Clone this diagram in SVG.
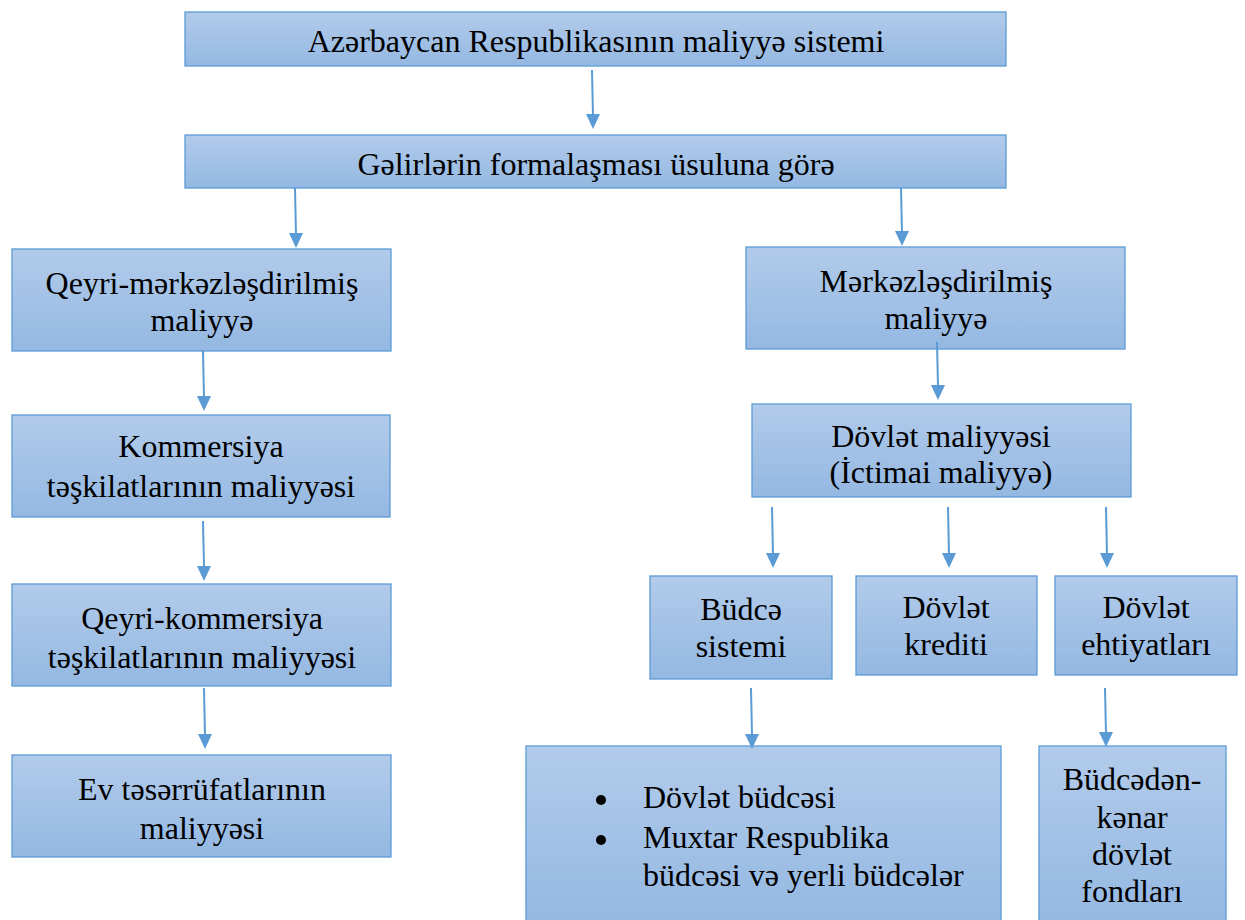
<svg xmlns="http://www.w3.org/2000/svg" width="1245" height="920" viewBox="0 0 1245 920">
  <defs>
    <linearGradient id="boxFill" x1="0" y1="0" x2="0" y2="1">
      <stop offset="0" stop-color="#b2cbea"/>
      <stop offset="1" stop-color="#94b8e2"/>
    </linearGradient>
    <style>
      .box { fill: url(#boxFill); stroke: #5b9bd5; stroke-width: 1.3; }
      text { font-family: 'Liberation Serif', 'DejaVu Serif', serif; font-size: 32px; fill: #000; }
      .lbl { text-anchor: middle; }
      .conn { stroke: #5b9bd5; stroke-width: 2; fill: none; }
      .head { fill: #5b9bd5; }
    </style>
  </defs>
  <rect width="1245" height="920" fill="#fff"/>

  <g id="n-sistem">
    <rect class="box" x="185" y="12" width="821" height="54"/>
    <text class="lbl" x="596" y="52">Azərbaycan Respublikasının maliyyə sistemi</text>
  </g>
  <g id="n-gelir">
    <rect class="box" x="185" y="135" width="821" height="53"/>
    <text class="lbl" x="596" y="175">Gəlirlərin formalaşması üsuluna görə</text>
  </g>
  <g id="n-qeyri-merk">
    <rect class="box" x="12" y="249" width="379" height="102"/>
    <text class="lbl" x="202" y="294">Qeyri-mərkəzləşdirilmiş</text>
    <text class="lbl" x="202" y="331">maliyyə</text>
  </g>
  <g id="n-merk">
    <rect class="box" x="746" y="247" width="379" height="102"/>
    <text class="lbl" x="936" y="292">Mərkəzləşdirilmiş</text>
    <text class="lbl" x="936" y="329">maliyyə</text>
  </g>
  <g id="n-kommersiya">
    <rect class="box" x="12" y="415" width="378" height="102"/>
    <text class="lbl" x="201" y="457">Kommersiya</text>
    <text class="lbl" x="201" y="497">təşkilatlarının maliyyəsi</text>
  </g>
  <g id="n-dovlet-maliyye">
    <rect class="box" x="752" y="404" width="379" height="93"/>
    <text class="lbl" x="941" y="447">Dövlət maliyyəsi</text>
    <text class="lbl" x="941" y="483">(İctimai maliyyə)</text>
  </g>
  <g id="n-qeyri-komm">
    <rect class="box" x="12" y="584" width="379" height="102"/>
    <text class="lbl" x="202" y="629">Qeyri-kommersiya</text>
    <text class="lbl" x="202" y="668">təşkilatlarının maliyyəsi</text>
  </g>
  <g id="n-ev">
    <rect class="box" x="12" y="755" width="379" height="102"/>
    <text class="lbl" x="202" y="800">Ev təsərrüfatlarının</text>
    <text class="lbl" x="202" y="839">maliyyəsi</text>
  </g>
  <g id="n-budce-sistemi">
    <rect class="box" x="650" y="576" width="182" height="103"/>
    <text class="lbl" x="741" y="620">Büdcə</text>
    <text class="lbl" x="741" y="657">sistemi</text>
  </g>
  <g id="n-kredit">
    <rect class="box" x="856" y="576" width="181" height="99"/>
    <text class="lbl" x="946" y="618">Dövlət</text>
    <text class="lbl" x="946" y="655">krediti</text>
  </g>
  <g id="n-ehtiyat">
    <rect class="box" x="1055" y="576" width="182" height="99"/>
    <text class="lbl" x="1146" y="618">Dövlət</text>
    <text class="lbl" x="1146" y="655">ehtiyatları</text>
  </g>
  <g id="n-budceler">
    <rect class="box" x="526" y="746" width="475" height="180"/>
    <circle cx="601" cy="800" r="5" fill="#000"/>
    <circle cx="601" cy="840" r="5" fill="#000"/>
    <text x="643" y="808">Dövlət büdcəsi</text>
    <text x="643" y="848">Muxtar Respublika</text>
    <text x="643" y="886">büdcəsi və yerli büdcələr</text>
  </g>
  <g id="n-budcedenkenar">
    <rect class="box" x="1039" y="746" width="187" height="180"/>
    <text class="lbl" x="1132" y="790">Büdcədən-</text>
    <text class="lbl" x="1132" y="828">kənar</text>
    <text class="lbl" x="1132" y="865">dövlət</text>
    <text class="lbl" x="1132" y="902">fondları</text>
  </g>

  <g id="connectors">
    <line class="conn" x1="592" y1="70" x2="593" y2="116"/>
    <polygon class="head" points="586,114 600,114 593,129"/>
    <line class="conn" x1="295" y1="188" x2="296" y2="235"/>
    <polygon class="head" points="289,233 303,233 296,248"/>
    <line class="conn" x1="901" y1="188" x2="902" y2="233"/>
    <polygon class="head" points="895,231 909,231 902,246"/>
    <line class="conn" x1="203" y1="351" x2="204" y2="398"/>
    <polygon class="head" points="197,396 211,396 204,411"/>
    <line class="conn" x1="937" y1="342" x2="938" y2="387"/>
    <polygon class="head" points="931,385 945,385 938,400"/>
    <line class="conn" x1="203" y1="521" x2="204" y2="568"/>
    <polygon class="head" points="197,566 211,566 204,581"/>
    <line class="conn" x1="204" y1="688" x2="205" y2="736"/>
    <polygon class="head" points="198,734 212,734 205,749"/>
    <line class="conn" x1="772" y1="507" x2="773" y2="555"/>
    <polygon class="head" points="766,553 780,553 773,568"/>
    <line class="conn" x1="948" y1="507" x2="949" y2="555"/>
    <polygon class="head" points="942,553 956,553 949,568"/>
    <line class="conn" x1="1106" y1="507" x2="1107" y2="555"/>
    <polygon class="head" points="1100,553 1114,553 1107,568"/>
    <line class="conn" x1="751" y1="688" x2="752" y2="736"/>
    <polygon class="head" points="745,734 759,734 752,749"/>
    <line class="conn" x1="1105" y1="688" x2="1106" y2="734"/>
    <polygon class="head" points="1099,732 1113,732 1106,747"/>
  </g>
</svg>
